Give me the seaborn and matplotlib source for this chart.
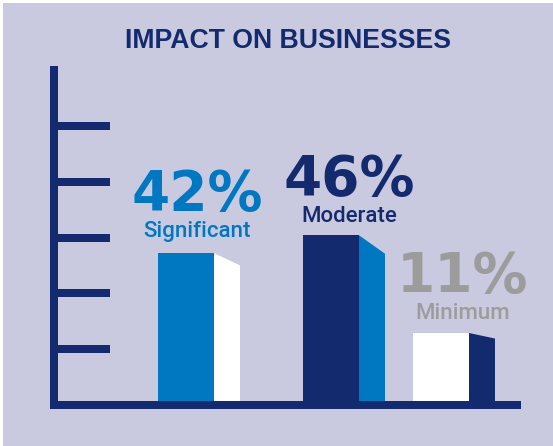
import matplotlib
matplotlib.use("Agg")
import matplotlib.pyplot as plt
import seaborn as sns
import pandas as pd
from matplotlib.patches import Rectangle, Polygon

# ---- data ----
categories = ["Significant", "Moderate", "Minimum"]
percent_values = [42, 46, 11]
bar_heights = [2.72, 3.04, 1.29]          # bar heights in y-axis grid units
grid_levels = [1, 2, 3, 4, 5]
title_text = "IMPACT ON BUSINESSES"

# ---- layout / style (not data) ----
W, H = 553, 446
DPI = 100
PX = 72.0 / DPI                            # points per pixel
bar_pos = [132, 277, 387]                  # bar front centers (x units = px)
front_w = 56
side_w = 26
side_drop = [0.22, 0.33, 0.10]
label_dx = [11, 18.5, 21.5]
label_gap_px = [16, 13, 14]

BG = "#c9cae0"
NAVY = "#142a6e"
BLUE = "#0078c1"
GREY = "#9c9c9c"
WHITE = "#ffffff"
front_colors = [BLUE, NAVY, WHITE]
side_colors = [WHITE, BLUE, NAVY]
text_colors = [BLUE, NAVY, GREY]

sns.set_theme(style="white")
plt.rcParams["font.family"] = ["Roboto", "DejaVu Sans"]

fig = plt.figure(figsize=(W / DPI, H / DPI), dpi=DPI, facecolor="white")
fig.patches.append(Rectangle((3 / W, 0), 1 - 3 / W, 1 - 3 / H, transform=fig.transFigure,
                             facecolor=BG, edgecolor="none", zorder=-5))

ax_left, ax_right, ax_bottom, ax_top = 54, 517, 405, 70
ax = fig.add_axes([ax_left / W, 1 - ax_bottom / H, (ax_right - ax_left) / W,
                   (ax_bottom - ax_top) / H])
ax.set_facecolor("none")

df = pd.DataFrame({"pos": bar_pos, "height": bar_heights, "category": categories})
sns.barplot(data=df, x="pos", y="height", hue="category", native_scale=True,
            palette=dict(zip(categories, front_colors)), saturation=1,
            width=front_w / min(b - a for a, b in zip(bar_pos[:-1], bar_pos[1:])),
            linewidth=0, edgecolor="none", legend=False, ax=ax)

ax.set_xlim(0, ax_right - ax_left)
ax.set_ylim(0, 6)

# 3D-like side faces derived from the drawn bars
patches = sorted([p for p in ax.patches if p.get_height() > 0], key=lambda p: p.get_x())
for i, p in enumerate(patches):
    x1 = p.get_x() + p.get_width()
    h = p.get_height()
    ax.add_patch(Polygon([(x1, 0), (x1, h), (x1 + side_w, h - side_drop[i]), (x1 + side_w, 0)],
                         closed=True, facecolor=side_colors[i], edgecolor="none", zorder=1))
    cx = p.get_x() + p.get_width() / 2 + label_dx[i]
    ax.annotate(categories[i], xy=(cx, h), xytext=(0, label_gap_px[i] * PX),
                textcoords="offset points", ha="center", va="baseline",
                fontsize=16, fontweight="medium", color=text_colors[i])
    ax.annotate(f"{percent_values[i]}%", xy=(cx, h),
                xytext=(0, (label_gap_px[i] + 27) * PX),
                textcoords="offset points", ha="center", va="baseline",
                fontsize=39.5, fontweight="bold", family="DejaVu Sans",
                color=text_colors[i])

# axis lines and tick bars
for s in ["top", "right"]:
    ax.spines[s].set_visible(False)
for s in ["left", "bottom"]:
    ax.spines[s].set_color(NAVY)
    ax.spines[s].set_linewidth(8 * PX)
ax.spines["bottom"].set_capstyle("projecting")
ax.set_yticks(grid_levels)
ax.tick_params(axis="y", direction="in", length=56 * PX, width=8 * PX, color=NAVY,
               labelleft=False, left=True)
ax.tick_params(axis="x", bottom=False, labelbottom=False)
ax.set_xlabel("")
ax.set_ylabel("")

fig.text(288 / W, 1 - 48 / H, title_text, ha="center", va="baseline",
         fontsize=19.2, fontweight="bold", family=["Liberation Sans", "DejaVu Sans"],
         color=NAVY)

fig.savefig("out.png", dpi=DPI, facecolor=fig.get_facecolor())
